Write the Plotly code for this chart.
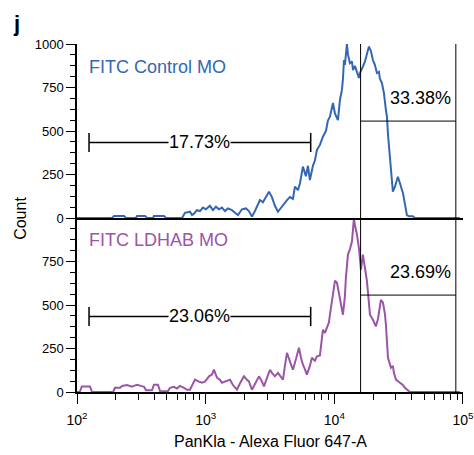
import plotly.graph_objects as go

# ---------------- data ----------------
top_x = [100, 187, 194, 232, 240, 287, 293, 338, 350, 390,
         396, 474, 492, 655, 690, 755, 783, 811, 855, 903,
         953, 1005, 1079, 1140, 1202, 1268, 1339, 1413, 1489, 1600,
         1690, 1782, 1914, 2056, 2169, 2290, 2415, 2547, 2642, 2786,
         2944, 3105, 3273, 3455, 3646, 3846, 4055, 4285, 4519, 4767,
         4940, 5212, 5408, 5699, 6012, 6237, 6457, 6817, 7063, 7322,
         7727, 8155, 8610, 8913, 9246, 9572, 9760, 10116, 10483, 10666,
         11065, 11458, 11668, 11885, 12081, 12303, 12531, 12763, 12965, 13213,
         13710, 13964, 14454, 14997, 15241, 15524, 15812, 16106, 16672, 17298,
         17906, 18578, 19231, 19953, 20654, 21429, 22233, 22594, 23442, 24266,
         25177, 25645, 26122, 26546, 27040, 27542, 28054, 28510, 29580, 30620,
         31189, 32359, 33497, 34119, 35400, 36644, 38019, 40832, 42267, 94600]
top_y = [0, 0, 12, 12, 0, 0, 12, 12, 0, 0,
         12, 12, 0, 0, 30, 36, 17, 25, 45, 40,
         60, 50, 70, 45, 65, 50, 60, 40, 55, 45,
         30, 17, 50, 55, 40, 8, 40, 80, 103, 90,
         120, 151, 120, 70, 36, 60, 80, 103, 120, 110,
         180, 160, 200, 295, 240, 300, 218, 300, 330, 391,
         420, 467, 500, 560, 582, 640, 661, 600, 570, 563,
         680, 736, 800, 908, 880, 950, 1000, 940, 920, 890,
         900, 850, 874, 833, 820, 805, 833, 850, 870, 900,
         950, 985, 960, 908, 880, 833, 840, 800, 775, 720,
         620, 582, 480, 410, 330, 260, 200, 151, 180, 220,
         237, 200, 160, 144, 80, 17, 10, 10, 0, 0]

bot_x = [100, 105, 109, 126, 131, 191, 197, 216, 224, 245,
         267, 293, 314, 332, 344, 383, 396, 426, 442, 509,
         528, 567, 598, 631, 678, 716, 755, 783, 826, 887,
         935, 988, 1062, 1119, 1159, 1224, 1291, 1339, 1439, 1546,
         1629, 1751, 1849, 1985, 2094, 2169, 2290, 2415, 2596, 2735,
         2839, 2992, 3162, 3273, 3455, 3646, 3778, 3988, 4130, 4285,
         4519, 4767, 5035, 5306, 5495, 5699, 5916, 6121, 6457, 6693,
         7063, 7322, 7727, 8155, 8453, 8759, 9078, 9246, 9760, 10116,
         10483, 10864, 11065, 11668, 12081, 12303, 12763, 13213, 13710, 13964,
         14191, 14454, 14997, 15524, 16106, 16672, 17298, 17906, 18239, 18923,
         19953, 21038, 21827, 23014, 23878, 24717, 25177, 25645, 26122, 27542,
         28510, 29040, 30130, 32359, 34119, 35400, 37325, 38637, 94600]
bot_y = [0, 0, 32, 32, 0, 0, 24, 24, 35, 40,
         30, 42, 35, 30, 10, 10, 42, 42, 5, 5,
         24, 30, 20, 35, 24, 13, 13, 40, 71, 60,
         53, 60, 90, 100, 128, 82, 70, 53, 60, 71,
         40, 13, 50, 90, 70, 61, 13, 50, 90, 60,
         32, 80, 128, 110, 90, 110, 95, 71, 150, 225,
         176, 128, 190, 255, 200, 157, 130, 100, 150, 197,
         180, 205, 210, 358, 340, 370, 400, 444, 570, 640,
         628, 560, 530, 444, 550, 657, 790, 820, 865, 940,
         995, 960, 904, 828, 703, 790, 715, 640, 577, 444,
         415, 377, 420, 530, 513, 450, 387, 300, 197, 140,
         150, 110, 71, 53, 40, 24, 10, 0, 0]

series_names = ["FITC Control MO", "FITC LDHAB MO"]
left_pct = ["17.73%", "23.06%"]
right_pct = ["33.38%", "23.69%"]

# gates (data units)
gate_left = [124, 6550]
gate_left_level = 434
gate_cap = 55
gate_right = [16000, 88000]
gate_right_level = 557
right_label_y = 688

x_tickvals = [100, 1000, 10000, 100000]
x_ticktext = ["10<sup>2</sup>", "10<sup>3</sup>", "10<sup>4</sup>", "10<sup>5</sup>"]
x_minor = [m * d for d in (100, 1000, 10000) for m in range(2, 10)]
y_top_ticks = [0, 250, 500, 750, 1000]
y_bot_ticks = [0, 250, 500, 750]

BLUE = "#3467b3"
PURPLE = "#9b55a8"
FONT = "Liberation Sans, Arial, Helvetica, sans-serif"

fig = go.Figure()
fig.add_trace(go.Scatter(x=top_x, y=top_y, xaxis="x2", yaxis="y2", mode="lines",
                         line=dict(color=BLUE, width=2), hoverinfo="skip", showlegend=False))
fig.add_trace(go.Scatter(x=bot_x, y=bot_y, xaxis="x", yaxis="y", mode="lines",
                         line=dict(color=PURPLE, width=2), hoverinfo="skip", showlegend=False))

shapes = []
annotations = []
for xr, yr, lbl, rl in (("x2", "y2", left_pct[0], right_pct[0]), ("x", "y", left_pct[1], right_pct[1])):
    ln = dict(color="black", width=1)
    for gx in gate_right:
        shapes.append(dict(type="line", xref=xr, yref=yr, x0=gx, x1=gx, y0=0, y1=1000, line=ln))
    shapes.append(dict(type="line", xref=xr, yref=yr, x0=gate_right[0], x1=gate_right[1],
                       y0=gate_right_level, y1=gate_right_level, line=ln))
    lw = dict(color="black", width=1.5)
    shapes.append(dict(type="line", xref=xr, yref=yr, x0=gate_left[0], x1=gate_left[1],
                       y0=gate_left_level, y1=gate_left_level, line=lw))
    for gx in gate_left:
        shapes.append(dict(type="line", xref=xr, yref=yr, x0=gx, x1=gx,
                           y0=gate_left_level - gate_cap, y1=gate_left_level + gate_cap, line=lw))
    annotations.append(dict(xref=xr, yref=yr, x=2.954, y=gate_left_level, text=lbl, showarrow=False,
                            font=dict(family=FONT, size=18, color="black"), bgcolor="white",
                            borderpad=0, xanchor="center", yanchor="middle"))
    annotations.append(dict(xref=xr, yref=yr, x=4.672, y=right_label_y, text=rl, showarrow=False,
                            font=dict(family=FONT, size=18, color="black"),
                            xanchor="center", yanchor="middle"))

annotations.append(dict(xref="x2", yref="y2", x=2.08, y=868, text=series_names[0], showarrow=False,
                        font=dict(family=FONT, size=18, color=BLUE), xanchor="left", yanchor="middle"))
annotations.append(dict(xref="x", yref="y", x=2.08, y=875, text=series_names[1], showarrow=False,
                        font=dict(family=FONT, size=18, color=PURPLE), xanchor="left", yanchor="middle"))
annotations.append(dict(xref="paper", yref="paper", x=-0.158, y=1.06, text="<b>j</b>", showarrow=False,
                        font=dict(family=FONT, size=22, color="black"), xanchor="center", yanchor="middle"))
annotations.append(dict(xref="paper", yref="paper", x=-0.148, y=0.5, text="Count", textangle=-90,
                        showarrow=False, font=dict(family=FONT, size=16, color="black"),
                        xanchor="center", yanchor="middle"))
annotations.append(dict(xref="paper", yref="paper", x=0.50, y=-0.141, text="PanKla - Alexa Fluor 647-A",
                        showarrow=False, font=dict(family=FONT, size=16, color="black"),
                        xanchor="center", yanchor="middle"))

yax_common = dict(range=[0, 1000], showline=True, linecolor="black", linewidth=1.5, ticks="outside",
                  ticklen=9, tickwidth=1.3, tickcolor="black", showgrid=False, zeroline=False,
                  tickfont=dict(family=FONT, size=13, color="black"), fixedrange=True, automargin=False,
                  minor=dict(ticks="outside", ticklen=5, tickwidth=1.2, tickcolor="black",
                             dtick=62.5, tick0=0, showgrid=False))

fig.update_layout(
    width=474, height=455, autosize=False,
    margin=dict(l=77, r=11, t=44, b=63, autoexpand=False),
    paper_bgcolor="white", plot_bgcolor="white",
    shapes=shapes, annotations=annotations,
    xaxis=dict(type="log", range=[1.9999, 5.0001], anchor="y", domain=[0, 1], showline=True, linecolor="black",
               linewidth=1.5, ticks="outside", ticklen=10, tickwidth=1.3, tickcolor="black",
               tickvals=x_tickvals, ticktext=x_ticktext, showgrid=False, zeroline=False,
               tickfont=dict(family=FONT, size=14, color="black"), ticklabelstandoff=4,
               ticklabeloverflow="allow", automargin=False,
               minor=dict(ticks="outside", ticklen=6, tickwidth=1.2, tickcolor="black",
                          tickvals=x_minor, showgrid=False)),
    xaxis2=dict(type="log", range=[1.9999, 5.0001], anchor="y2", matches="x", showline=True, linecolor="black",
                linewidth=1.5, ticks="", showticklabels=False, showgrid=False, zeroline=False, automargin=False),
    yaxis=dict(domain=[0, 0.5], anchor="x", tickvals=y_bot_ticks, **yax_common),
    yaxis2=dict(domain=[0.5, 1], anchor="x2", tickvals=y_top_ticks, **yax_common),
)

fig.write_html("out.html")
